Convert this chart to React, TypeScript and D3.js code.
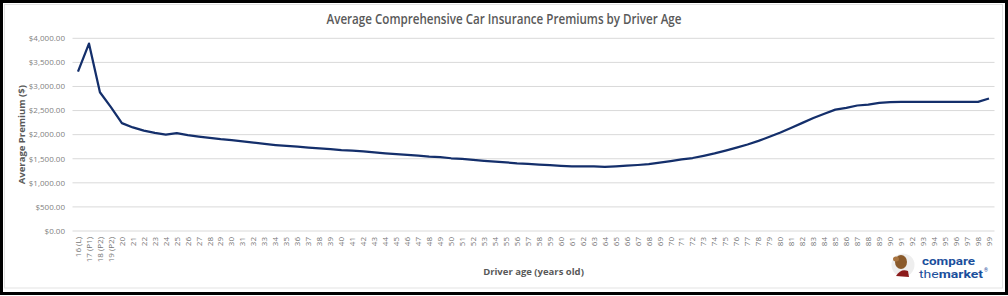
import { useMemo } from "react";
import * as d3 from "d3";

// Driver age categories (x axis)
const AGES: string[] = [
  "16 (L)", "17 (P1)", "18 (P2)", "19 (P2)",
  ...d3.range(20, 100).map(String),
];

// Average premium per age ($)
const PREMIUMS: number[] = [
  3310, 3890, 2880, 2570, 2240, 2150, 2085, 2035, 2000, 2030, // 16-25
  1990, 1960, 1935, 1905, 1885, 1860, 1835, 1810, 1785, 1765, // 26-35
  1750, 1730, 1715, 1700, 1680, 1670, 1655, 1630, 1610, 1595, // 36-45
  1580, 1565, 1545, 1535, 1510, 1495, 1475, 1455, 1440, 1425, // 46-55
  1405, 1395, 1380, 1365, 1350, 1340, 1340, 1340, 1330, 1340, // 56-65
  1355, 1370, 1390, 1420, 1450, 1485, 1515, 1560, 1610, 1670, // 66-75
  1730, 1795, 1870, 1955, 2045, 2145, 2245, 2345, 2435, 2520, // 76-85
  2555, 2605, 2625, 2660, 2675, 2680, 2680, 2680, 2680, 2680, // 86-95
  2680, 2680, 2680, 2750, // 96-99
];

const Y_TICKS: number[] = [0, 500, 1000, 1500, 2000, 2500, 3000, 3500, 4000];

const TITLE = "Average Comprehensive Car Insurance Premiums by Driver Age";
const Y_TITLE = "Average Premium ($)";
const X_TITLE = "Driver age (years old)";

const W = 1008;
const H = 296;
const FONT = "'Open Sans', 'DejaVu Sans', sans-serif";

export default function App() {
  const plot = { left: 72.5, right: 994.5, top: 38.3, bottom: 231 };

  const x = useMemo(
    () => d3.scaleBand<string>().domain(AGES).range([plot.left, plot.right]),
    []
  );
  const y = useMemo(
    () => d3.scaleLinear().domain([0, 4000]).range([plot.bottom, plot.top]),
    []
  );

  const linePath = useMemo(() => {
    const line = d3
      .line<number>()
      .x((_, i) => (x(AGES[i]) || 0) + x.bandwidth() / 2)
      .y((d) => y(d));
    return line(PREMIUMS) || "";
  }, [x, y]);

  const fmt = d3.format("$,.2f");

  return (
    <svg
      width={W}
      height={H}
      style={{ position: "absolute", left: 0, top: 0, background: "#fff" }}
      fontFamily={FONT}
    >
      <rect x={0} y={0} width={W} height={H} fill="#fff" />
      {/* chart area border */}
      <rect x={4.5} y={4.5} width={998} height={283.5} fill="none" stroke="#e3e3e3" />

      {/* title */}
      <text
        x={504}
        y={24}
        textAnchor="middle"
        fontSize={14}
        fontWeight={600}
        fill="#595959"
        textLength={355}
        lengthAdjust="spacingAndGlyphs"
      >
        {TITLE}
      </text>

      {/* gridlines + y labels */}
      {Y_TICKS.map((t) => (
        <g key={t}>
          <line
            x1={plot.left}
            x2={plot.right}
            y1={y(t)}
            y2={y(t)}
            stroke="#d9d9d9"
            strokeWidth={1}
          />
          <text
            x={65}
            y={y(t)}
            dy="0.35em"
            textAnchor="end"
            fontSize={8}
            fill="#7f7f7f"
          >
            {fmt(t)}
          </text>
        </g>
      ))}

      {/* x tick labels */}
      {AGES.map((a) => {
        const cx = (x(a) || 0) + x.bandwidth() / 2;
        return (
          <text
            key={a}
            transform={`translate(${cx},237) rotate(-90)`}
            dy="0.35em"
            textAnchor="end"
            fontSize={8}
            fill="#767676"
          >
            {a}
          </text>
        );
      })}

      {/* axis titles */}
      <text
        transform={`translate(22,${(plot.top + plot.bottom) / 2}) rotate(-90)`}
        dy="0.35em"
        textAnchor="middle"
        fontSize={9.5}
        fontWeight={700}
        fill="#595959"
      >
        {Y_TITLE}
      </text>
      <text
        x={(plot.left + plot.right) / 2}
        y={275}
        textAnchor="middle"
        fontSize={9.5}
        fontWeight={700}
        fill="#595959"
      >
        {X_TITLE}
      </text>

      {/* series */}
      <path
        d={linePath}
        fill="none"
        stroke="#142f6b"
        strokeWidth={2.25}
        strokeLinejoin="round"
      />

      {/* logo */}
      <g fontFamily="'Roboto', sans-serif" fill="#1b4f9c">
        <circle cx={903} cy={265} r={11.5} fill="#eeeeee" />
        <ellipse cx={901} cy={262} rx={6} ry={7} fill="#8a5a2b" />
        <ellipse cx={896} cy={259} rx={3} ry={2.5} fill="#a87440" />
        <path d="M896,276 Q901,268 908,271 L909,277 Z" fill="#8b1a1a" />
        <text x={922} y={265} fontSize={11} fontWeight={700} textLength={53} lengthAdjust="spacingAndGlyphs">
          compare
        </text>
        <text x={919} y={278} fontSize={11} textLength={64} lengthAdjust="spacingAndGlyphs">
          the<tspan fontWeight={700}>market</tspan>
        </text>
        <text x={984} y={272} fontSize={5}>®</text>
      </g>

      {/* outer black frame */}
      <rect x={1.5} y={1.5} width={1005} height={292} fill="none" stroke="#000" strokeWidth={3} />
    </svg>
  );
}
